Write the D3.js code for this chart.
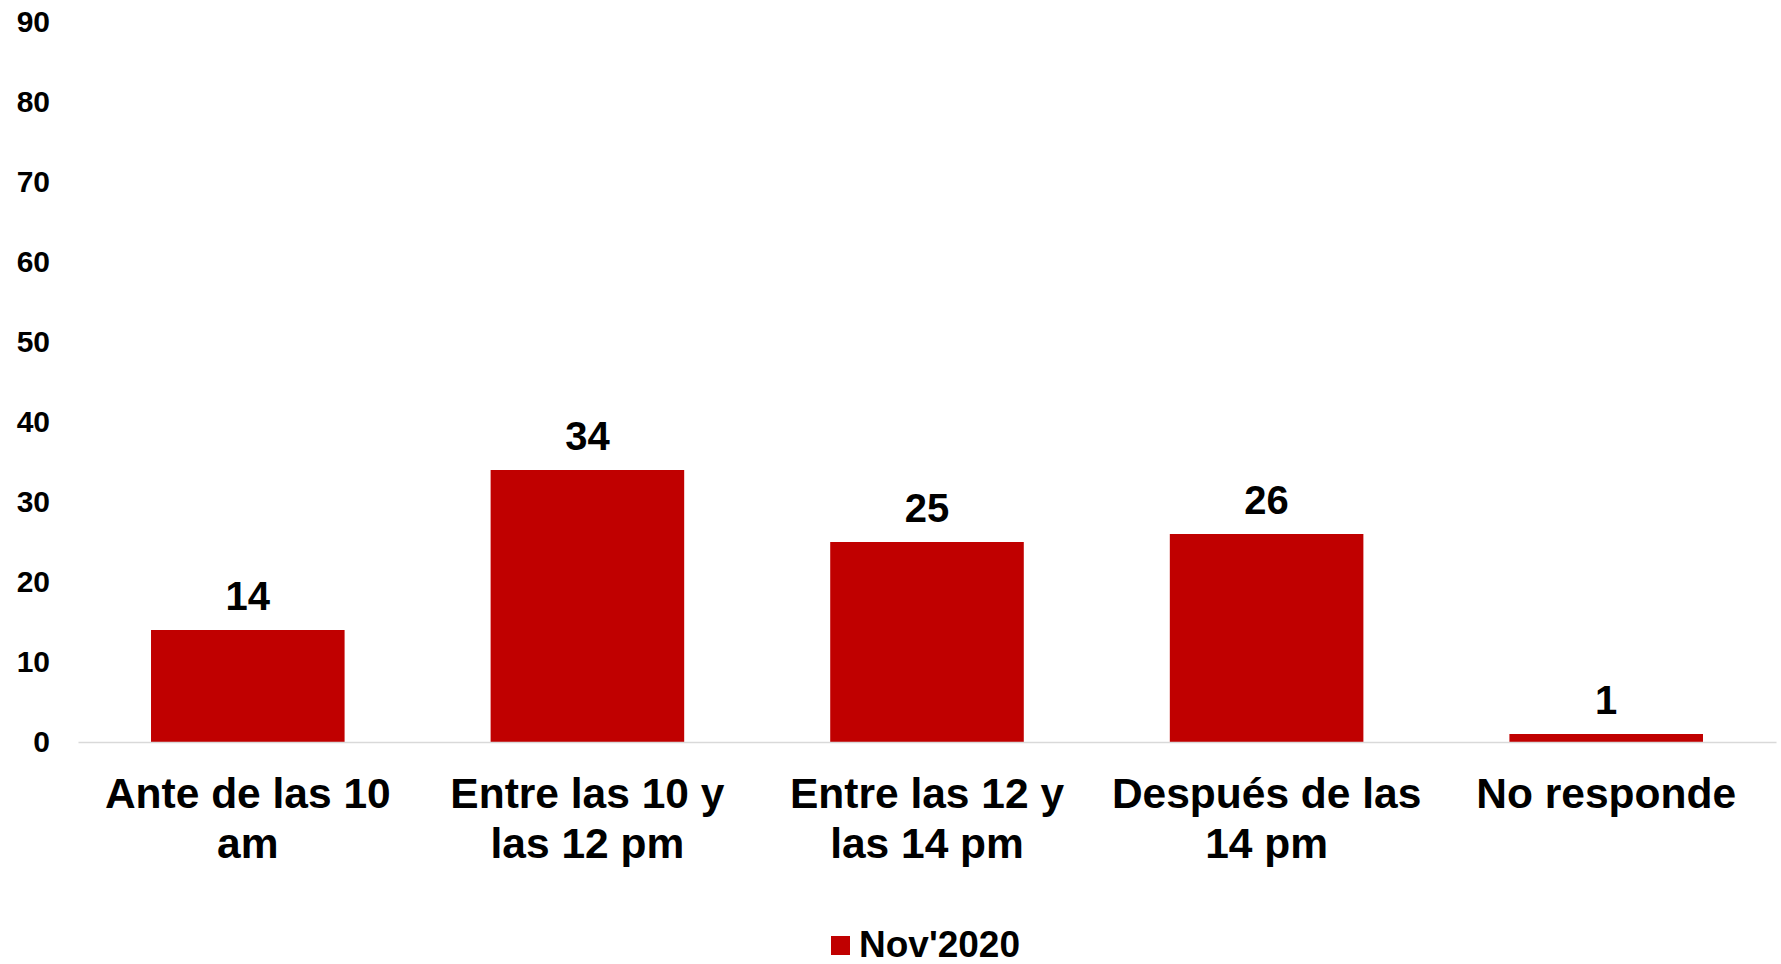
<!DOCTYPE html>
<html>
<head>
<meta charset="utf-8">
<script src="https://cdn.jsdelivr.net/npm/d3@7"></script>
<style>
  body { margin: 0; background: #fff; }
  svg { display: block; font-family: "Liberation Sans", Arial, sans-serif; font-weight: bold; }
</style>
</head>
<body>
<div id="chart"></div>
<script>
const width = 1781;
const height = 964;
const margin = { top: 22, right: 5, bottom: 222, left: 78 };

// data
const categories = [
  'Ante de las 10\nam',
  'Entre las 10 y\nlas 12 pm',
  'Entre las 12 y\nlas 14 pm',
  'Después de las\n14 pm',
  'No responde',
];
const values = [14, 34, 25, 26, 1];
const seriesName = "Nov'2020";
const yTicks = [0, 10, 20, 30, 40, 50, 60, 70, 80, 90];
const barColor = '#c00000';

const svg = d3
  .select('#chart')
  .append('svg')
  .attr('width', width)
  .attr('height', height);

const xScale = d3
  .scaleBand()
  .domain(categories)
  .range([margin.left, width - margin.right])
  .paddingInner(0.43)
  .paddingOuter(0.215);

const yScale = d3
  .scaleLinear()
  .domain([0, 90])
  .range([height - margin.bottom, margin.top]);

// y axis (labels only)
const yAxis = svg
  .append('g')
  .attr('transform', 'translate(50, 0)')
  .call(d3.axisLeft(yScale).tickValues(yTicks).tickSize(0).tickPadding(0));
yAxis.select('.domain').remove();
yAxis
  .selectAll('text')
  .attr('font-size', 30)
  .attr('font-family', null)
  .attr('fill', '#000');

// bars
svg
  .append('g')
  .selectAll('rect')
  .data(values)
  .join('rect')
  .attr('x', (d, i) => xScale(categories[i]))
  .attr('y', (d) => yScale(d))
  .attr('width', xScale.bandwidth())
  .attr('height', (d) => yScale(0) - yScale(d))
  .attr('fill', barColor);

// x axis
const xAxis = svg
  .append('g')
  .attr('transform', `translate(0, ${yScale(0)})`)
  .call(d3.axisBottom(xScale).tickSize(0).tickSizeOuter(0));
xAxis.select('.domain').attr('stroke', '#d9d9d9').attr('stroke-width', 1.5);
xAxis
  .selectAll('text')
  .attr('font-size', 42.5)
  .attr('font-family', null)
  .attr('fill', '#000')
  .attr('y', 0)
  .attr('dy', null)
  .each(function (d) {
    const t = d3.select(this);
    t.text(null);
    d.split('\n').forEach((line, i) => {
      t.append('tspan').attr('x', 0).attr('y', 66 + i * 50).text(line);
    });
  });

// value labels
svg
  .append('g')
  .selectAll('text')
  .data(values)
  .join('text')
  .attr('x', (d, i) => xScale(categories[i]) + xScale.bandwidth() / 2)
  .attr('y', (d) => yScale(d) - 20)
  .attr('text-anchor', 'middle')
  .attr('font-size', 40)
  .attr('fill', '#000')
  .text((d) => d);

// legend
const legend = svg.append('g').attr('transform', 'translate(831, 936)');
legend.append('rect').attr('width', 19).attr('height', 19).attr('fill', barColor);
legend
  .append('text')
  .attr('x', 28)
  .attr('y', 21)
  .attr('font-size', 37)
  .attr('fill', '#000')
  .text(seriesName);
</script>
</body>
</html>
